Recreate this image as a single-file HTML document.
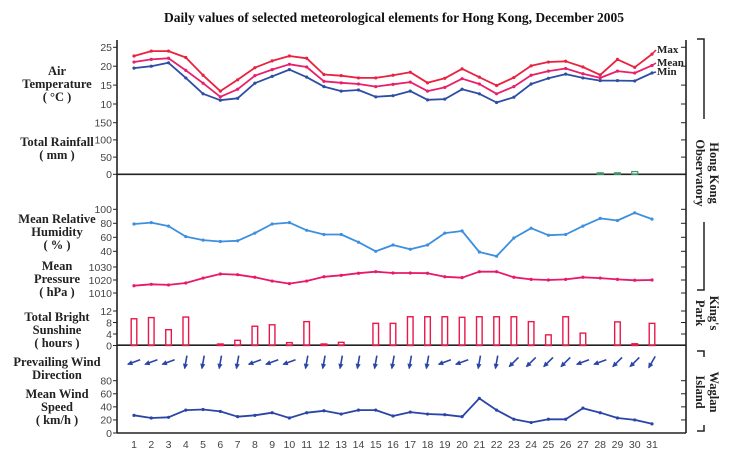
<!DOCTYPE html>
<html><head><meta charset="utf-8"><style>
html,body{margin:0;padding:0;background:#fff;}
svg{display:block;}
.tt{font-family:"Liberation Serif",serif;font-weight:bold;font-size:12.5px;fill:#222;}
.tk{font-family:"Liberation Sans",sans-serif;font-size:10.5px;fill:#444;}
.lg{font-family:"Liberation Serif",serif;font-weight:bold;font-size:11px;fill:#222;}
</style></head><body>
<svg id="chart" width="733" height="461" viewBox="0 0 733 461" xmlns="http://www.w3.org/2000/svg">
<text x="394" y="22" text-anchor="middle" font-family="Liberation Serif, serif" font-weight="bold" font-size="13.5" fill="#111">Daily values of selected meteorological elements for Hong Kong, December 2005</text>
<g>
<text class="tt" text-anchor="middle"><tspan x="57" y="75">Air</tspan><tspan x="57" y="88">Temperature</tspan><tspan x="57" y="101">( °C )</tspan></text>
<text class="tt" text-anchor="middle"><tspan x="57" y="146">Total Rainfall</tspan><tspan x="57" y="159">( mm )</tspan></text>
<text class="tt" text-anchor="middle"><tspan x="57" y="223">Mean Relative</tspan><tspan x="57" y="236">Humidity</tspan><tspan x="57" y="249">( % )</tspan></text>
<text class="tt" text-anchor="middle"><tspan x="57" y="270">Mean</tspan><tspan x="57" y="283">Pressure</tspan><tspan x="57" y="296">( hPa )</tspan></text>
<text class="tt" text-anchor="middle"><tspan x="57" y="321">Total Bright</tspan><tspan x="57" y="334">Sunshine</tspan><tspan x="57" y="347">( hours )</tspan></text>
<text class="tt" text-anchor="middle"><tspan x="57" y="366">Prevailing Wind</tspan><tspan x="57" y="379">Direction</tspan></text>
<text class="tt" text-anchor="middle"><tspan x="57" y="398">Mean Wind</tspan><tspan x="57" y="411">Speed</tspan><tspan x="57" y="424">( km/h )</tspan></text>
</g>
<g>
<path d="M697 39 H704 V119 M704 222 V290 H697" fill="none" stroke="#222" stroke-width="1.5"/>
<text class="tt" transform="translate(710,173) rotate(90)" text-anchor="middle"><tspan x="0" y="0">Hong Kong</tspan><tspan x="0" y="14">Observatory</tspan></text>
<text class="tt" transform="translate(710,313) rotate(90)" text-anchor="middle"><tspan x="0" y="0">King's</tspan><tspan x="0" y="14">Park</tspan></text>
<path d="M697 351 H704 V357 M704 425 V431 H697" fill="none" stroke="#222" stroke-width="1.5"/>
<text class="tt" transform="translate(710,392) rotate(90)" text-anchor="middle"><tspan x="0" y="0">Waglan</tspan><tspan x="0" y="14">Island</tspan></text>
</g>
<g id="plot"></g>
</svg>
<script>
const days = [1,2,3,4,5,6,7,8,9,10,11,12,13,14,15,16,17,18,19,20,21,22,23,24,25,26,27,28,29,30,31];
const tempMax = [22.7,24.0,24.0,22.3,17.6,13.4,16.4,19.6,21.4,22.7,22.1,17.8,17.5,16.9,16.9,17.6,18.4,15.6,16.8,19.3,17.1,14.9,17.0,20.1,21.1,21.3,19.8,17.7,21.8,19.7,23.2];
const tempMean = [21.1,21.8,22.1,18.9,15.5,11.9,13.9,17.5,19.1,20.5,19.8,16.0,15.6,15.3,14.6,15.2,15.8,13.4,14.4,16.7,15.3,12.7,14.6,17.6,18.7,19.4,18.0,16.9,18.7,18.2,20.2];
const tempMin = [19.5,20.0,20.9,16.9,12.7,11.0,11.5,15.5,17.3,19.1,17.1,14.6,13.4,13.7,11.9,12.2,13.4,11.1,11.3,13.9,12.7,10.4,11.8,15.3,16.8,17.9,16.9,16.2,16.2,16.1,18.2];
const rainfall = [0,0,0,0,0,0,0,0,0,0,0,0,0,0,0,0,0,0,0,0,0,0,0,0,0,0,0,0.3,0.3,8,0];
const humidity = [79,81,76,61,56,54,55,66,79,81,70,64,64,53,40,49,43,49,66,69,39,33,59,73,63,64,76,87,84,95,86];
const pressure = [1015.6,1016.7,1016.2,1017.7,1021.5,1024.6,1024.1,1022.1,1019.2,1017.2,1019.2,1022.5,1023.6,1025.2,1026.4,1025.4,1025.4,1025.2,1022.5,1021.8,1026.4,1026.4,1022.1,1020.5,1020.0,1020.5,1022.1,1021.5,1020.5,1019.8,1020.0];
const sunshine = [9.3,9.7,5.5,9.9,0,0.4,1.8,6.7,7.2,1.0,8.3,0.3,1.1,0,7.7,7.7,10.0,10.0,10.0,9.8,10.0,10.0,10.0,8.3,3.7,10.0,4.3,0,8.2,0.6,7.7];
const windDir = [70,70,70,10,10,10,10,70,70,70,10,10,10,10,10,10,10,10,70,70,10,10,45,45,45,45,70,70,45,45,30];
const windSpeed = [27,23,24,35,36,33,25,27,31,23,31,34,29,35,35,26,32,29,28,25,53,35,21,16,21,21,38,31,23,20,14];
const tempTicks = [10,15,20,25];
const rainTicks = [0,50,100,150];
const humTicks = [40,60,80,100];
const presTicks = [1010,1020,1030];
const sunTicks = [0,4,8,12];
const speedTicks = [0,20,40,60,80];

const NS='http://www.w3.org/2000/svg';
const plot=document.getElementById('plot');
const X0=117, X1=686;
function xDay(d){return 134+(d-1)*(652-134)/30;}
function lin(v0,y0,v1,y1){return v=>y0+(v-v0)*(y1-y0)/(v1-v0);}
const yTemp=lin(10,104,25,47.3);
const yRain=lin(0,174.3,150,122.7);
const yHum=lin(40,251.3,100,209.3);
const yPres=lin(1010,293,1030,267);
const ySun=lin(0,345.5,12,311);
const ySpd=lin(0,433,80,380.7);
function mk(tag,attrs,parent){const e=document.createElementNS(NS,tag);for(const k in attrs)e.setAttribute(k,attrs[k]);(parent||plot).appendChild(e);return e;}

const ax=mk('g',{});


let a=mk('line',{x1:X0,y1:40,x2:X0,y2:433,stroke:'#222','stroke-width':1.6},ax);


a=mk('line',{x1:X1,y1:40,x2:X1,y2:433,stroke:'#222','stroke-width':1.6},ax);


[174.3,345.2,433].forEach(y=>{
  const l=mk('line',{x1:X0,y1:y,x2:X1,y2:y,stroke:'#222','stroke-width':1.6},ax);
  
  
});
function ticks(arr,sc,name){
  const g=mk('g',{},ax);
  
  
  arr.forEach(v=>{
    const y=sc(v);
    mk('line',{x1:X0-4,y1:y,x2:X0,y2:y,stroke:'#222','stroke-width':1},g);
    mk('line',{x1:X1-5,y1:y,x2:X1,y2:y,stroke:'#222','stroke-width':1},g);
    const t=mk('text',{x:X0-5,y:y+3.8,'text-anchor':'end',class:'tk'},g);
    t.textContent=v;
    
    
  });
}
ticks(tempTicks,yTemp,'temperature-ticks');
ticks(rainTicks,yRain,'rainfall-ticks');
ticks(humTicks,yHum,'humidity-ticks');
ticks(presTicks,yPres,'pressure-ticks');
ticks(sunTicks,ySun,'sunshine-ticks');
ticks(speedTicks,ySpd,'wind-speed-ticks');
days.forEach(d=>{
  const t=mk('text',{x:xDay(d),y:448,'text-anchor':'middle',class:'tk','font-size':'11'},ax);
  t.textContent=d;
  
  
});

function series(vals,sc,color,name){
  const g=mk('g',{});
  
  
  const pts=vals.map((v,i)=>xDay(days[i]).toFixed(1)+','+sc(v).toFixed(1)).join(' ');
  mk('polyline',{points:pts,fill:'none',stroke:color,'stroke-width':1.8,'stroke-linejoin':'round'},g);
  vals.forEach((v,i)=>{
    const c=mk('circle',{cx:xDay(days[i]),cy:sc(v),r:1.6,fill:color},g);
    
    
  });
  return g;
}
series(tempMax,yTemp,'#e8223f','max-temperature-line');
series(tempMean,yTemp,'#e8206a','mean-temperature-line');
series(tempMin,yTemp,'#2e4ea6','min-temperature-line');
series(humidity,yHum,'#3d8fdf','humidity-line');
series(pressure,yPres,'#e8186a','pressure-line');
series(windSpeed,ySpd,'#2a45a6','wind-speed-line');

const lx=xDay(31);
[['Max',tempMax[30],53,'#e8223f'],['Mean',tempMean[30],66,'#e8206a'],['Min',tempMin[30],75,'#2e4ea6']].forEach(r=>{
  const g=mk('g',{});
  
  
  mk('line',{x1:lx,y1:yTemp(r[1]),x2:lx+4,y2:r[2]-3,stroke:r[3],'stroke-width':1.6},g);
  const t=mk('text',{x:lx+5,y:r[2],class:'lg'},g);
  t.textContent=r[0];
});

const rg=mk('g',{});


rainfall.forEach((v,i)=>{
  if(v<=0)return;
  const h=Math.max(yRain(0)-yRain(v),1.5);
  const r=mk('rect',{x:xDay(days[i])-3,y:yRain(0)-h,width:6,height:h,fill:'none',stroke:'#3a9a6a','stroke-width':1.2},rg);
  
  
});

const sg=mk('g',{});


sunshine.forEach((v,i)=>{
  if(v<=0)return;
  const h=Math.max(ySun(0)-ySun(v),1.5);
  const r=mk('rect',{x:xDay(days[i])-2.8,y:ySun(0)-h,width:5.6,height:h,fill:v<0.8?'#e8184a':'none',stroke:'#e8184a','stroke-width':1.4},sg);
  
  
});

const wg=mk('g',{});


windDir.forEach((deg,i)=>{
  const th=(deg+180)*Math.PI/180;
  const dx=Math.sin(th),dy=-Math.cos(th);
  const cx=xDay(days[i]),cy=362,L=6.5;
  const x2=cx+dx*L,y2=cy+dy*L;
  const g=mk('g',{},wg);
  
  
  mk('line',{x1:cx-dx*L,y1:cy-dy*L,x2:x2,y2:y2,stroke:'#2a45a6','stroke-width':1.6},g);
  const px=-dy,py=dx,hl=4.5,hw=2.6;
  const bx=x2-dx*hl,by=y2-dy*hl;
  mk('polygon',{points:`${(x2+dx*1).toFixed(1)},${(y2+dy*1).toFixed(1)} ${(bx+px*hw).toFixed(1)},${(by+py*hw).toFixed(1)} ${(bx-px*hw).toFixed(1)},${(by-py*hw).toFixed(1)}`,fill:'#2a45a6'},g);
});
</script>
</body></html>
